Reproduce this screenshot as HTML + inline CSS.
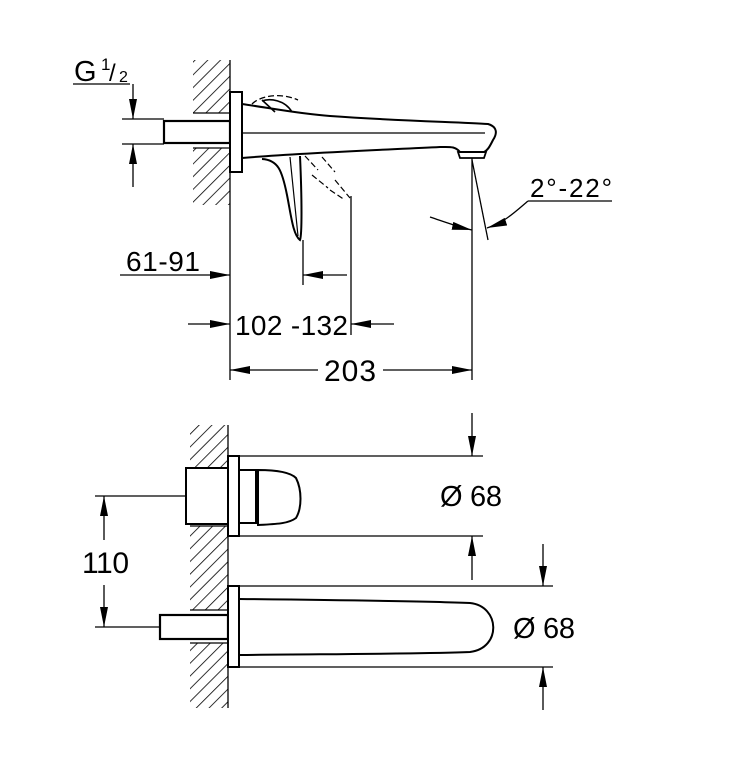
<!DOCTYPE html>
<html><head><meta charset="utf-8"><style>
html,body{margin:0;padding:0;background:#fff}
svg{display:block}
text{font-family:"Liberation Sans",sans-serif;fill:#000}
</style></head><body>
<svg width="738" height="765" viewBox="0 0 738 765" xmlns="http://www.w3.org/2000/svg">
<defs>
<pattern id="h" width="9" height="9" patternUnits="userSpaceOnUse" patternTransform="rotate(45)">
<line x1="0" y1="0" x2="0" y2="9" stroke="#000" stroke-width="1.6"/>
</pattern>
<marker id="a" viewBox="0 0 20 8" refX="20" refY="4" markerWidth="20" markerHeight="8" orient="auto" markerUnits="userSpaceOnUse">
<path d="M0,0 L20,4 L0,8 Z" fill="#000"/>
</marker>
</defs>
<g stroke="#000" fill="none" stroke-width="1.3">
<rect x="193" y="60" width="37" height="53" fill="url(#h)" stroke="none"/>
<rect x="193" y="148" width="37" height="57" fill="url(#h)" stroke="none"/>
<line x1="230" y1="60" x2="230" y2="380"/>
<line x1="193" y1="113" x2="230" y2="113"/>
<line x1="193" y1="148" x2="230" y2="148"/>
<rect x="164" y="121" width="66" height="22" stroke-width="2.2" fill="#fff"/>
<rect x="230" y="92" width="12" height="80" stroke-width="2" fill="#fff"/>
<line x1="73" y1="84" x2="130" y2="84"/>
<line x1="133" y1="84" x2="133" y2="119" marker-end="url(#a)"/>
<line x1="122" y1="119" x2="164" y2="119"/>
<line x1="122" y1="144" x2="164" y2="144"/>
<line x1="133" y1="187" x2="133" y2="144" marker-end="url(#a)"/>
<path d="M242,104 C270,108 300,114 330,116 C400,121 460,122 488,124 C498,127 497,134 493,140 C490,146 488,150 484,152 L460,152 C455,146 450,147 440,147 C380,150 300,153 242,158" stroke-width="2"/>
<line x1="242" y1="133" x2="485" y2="133" stroke-width="1.2"/>
<path d="M458,152 L486,152 L484,158 L460,158 Z" stroke-width="1.8"/>
<path d="M262,101 C270,98 285,100 292,112 M262,100 L275,112" stroke-width="1.6"/>
<path d="M252,104 C260,96 280,92 298,100" stroke-dasharray="6,3"/>
<path d="M262,159 C278,160 282,170 287,195 C291,215 293,235 300,240 C302,235 302,200 300,156" stroke-width="2"/>
<line x1="290" y1="157" x2="298" y2="236" stroke-width="1.2"/>
<path d="M305,156 L318,170 M312,175 L328,188 M322,157 L335,172 M335,180 L350,198 M330,190 L345,200" stroke-dasharray="6,3" stroke-width="1.2"/>
<line x1="303" y1="240" x2="303" y2="285"/>
<line x1="351" y1="196" x2="351" y2="335"/>
<line x1="472" y1="158" x2="472" y2="380"/>
<line x1="472" y1="160" x2="488" y2="240"/>
<line x1="120" y1="275" x2="230" y2="275" marker-end="url(#a)"/>
<line x1="347" y1="275" x2="303" y2="275" marker-end="url(#a)"/>
<line x1="188" y1="324" x2="230" y2="324" marker-end="url(#a)"/>
<line x1="394" y1="324" x2="351" y2="324" marker-end="url(#a)"/>
<line x1="318" y1="370" x2="230" y2="370" marker-end="url(#a)"/>
<line x1="383" y1="370" x2="472" y2="370" marker-end="url(#a)"/>
<path d="M430,217 C445,222 458,227 472,230" marker-end="url(#a)"/>
<path d="M528,201 C515,212 505,222 487,228" marker-end="url(#a)"/>
<line x1="528" y1="201" x2="612" y2="201"/>
<rect x="190" y="425" width="38" height="43" fill="url(#h)" stroke="none"/>
<rect x="190" y="526" width="38" height="84" fill="url(#h)" stroke="none"/>
<rect x="190" y="643" width="38" height="65" fill="url(#h)" stroke="none"/>
<line x1="228" y1="425" x2="228" y2="708"/>
<line x1="190" y1="468" x2="228" y2="468"/>
<line x1="190" y1="526" x2="228" y2="526"/>
<line x1="190" y1="610" x2="228" y2="610"/>
<line x1="190" y1="643" x2="228" y2="643"/>
<rect x="186" y="468" width="42" height="56" stroke-width="2" fill="#fff"/>
<rect x="228" y="456" width="11" height="80" stroke-width="2" fill="#fff"/>
<rect x="239" y="470" width="17" height="53" stroke-width="2" fill="#fff"/>
<path d="M258,470 C275,470 290,472 296,478 C302,490 302,508 296,518 C288,524 275,524 258,525 Z" stroke-width="2"/>
<rect x="160" y="615" width="68" height="24" stroke-width="2.2" fill="#fff"/>
<rect x="228" y="586" width="11" height="81" stroke-width="2" fill="#fff"/>
<path d="M239,599 C330,600 420,601 470,603 C500,606 502,648 470,652 C420,654 330,654 239,655" stroke-width="2"/>
<line x1="239" y1="456" x2="483" y2="456"/>
<line x1="239" y1="536" x2="483" y2="536"/>
<line x1="472" y1="413" x2="472" y2="456" marker-end="url(#a)"/>
<line x1="472" y1="580" x2="472" y2="536" marker-end="url(#a)"/>
<line x1="239" y1="586" x2="553" y2="586"/>
<line x1="239" y1="667" x2="553" y2="667"/>
<line x1="543" y1="544" x2="543" y2="586" marker-end="url(#a)"/>
<line x1="543" y1="710" x2="543" y2="667" marker-end="url(#a)"/>
<line x1="95" y1="496" x2="186" y2="496"/>
<line x1="95" y1="627" x2="160" y2="627"/>
<line x1="104" y1="540" x2="104" y2="496" marker-end="url(#a)"/>
<line x1="104" y1="585" x2="104" y2="627" marker-end="url(#a)"/>
</g>
<text x="74" y="81" font-size="29">G</text>
<text x="101" y="70" font-size="17">1</text>
<text x="109" y="81" font-size="24">/</text>
<text x="119" y="82" font-size="16">2</text>
<text x="126" y="271" font-size="28" textLength="74">61-91</text>
<text x="235" y="335" font-size="28" textLength="113">102 -132</text>
<text x="324" y="381" font-size="30" textLength="52">203</text>
<text x="530" y="197" font-size="26" textLength="82">2°-22°</text>
<text x="440" y="506" font-size="29" textLength="62">Ø 68</text>
<text x="513" y="638" font-size="29" textLength="62">Ø 68</text>
<text x="82" y="573" font-size="30" textLength="47">110</text>
</svg>
</body></html>
